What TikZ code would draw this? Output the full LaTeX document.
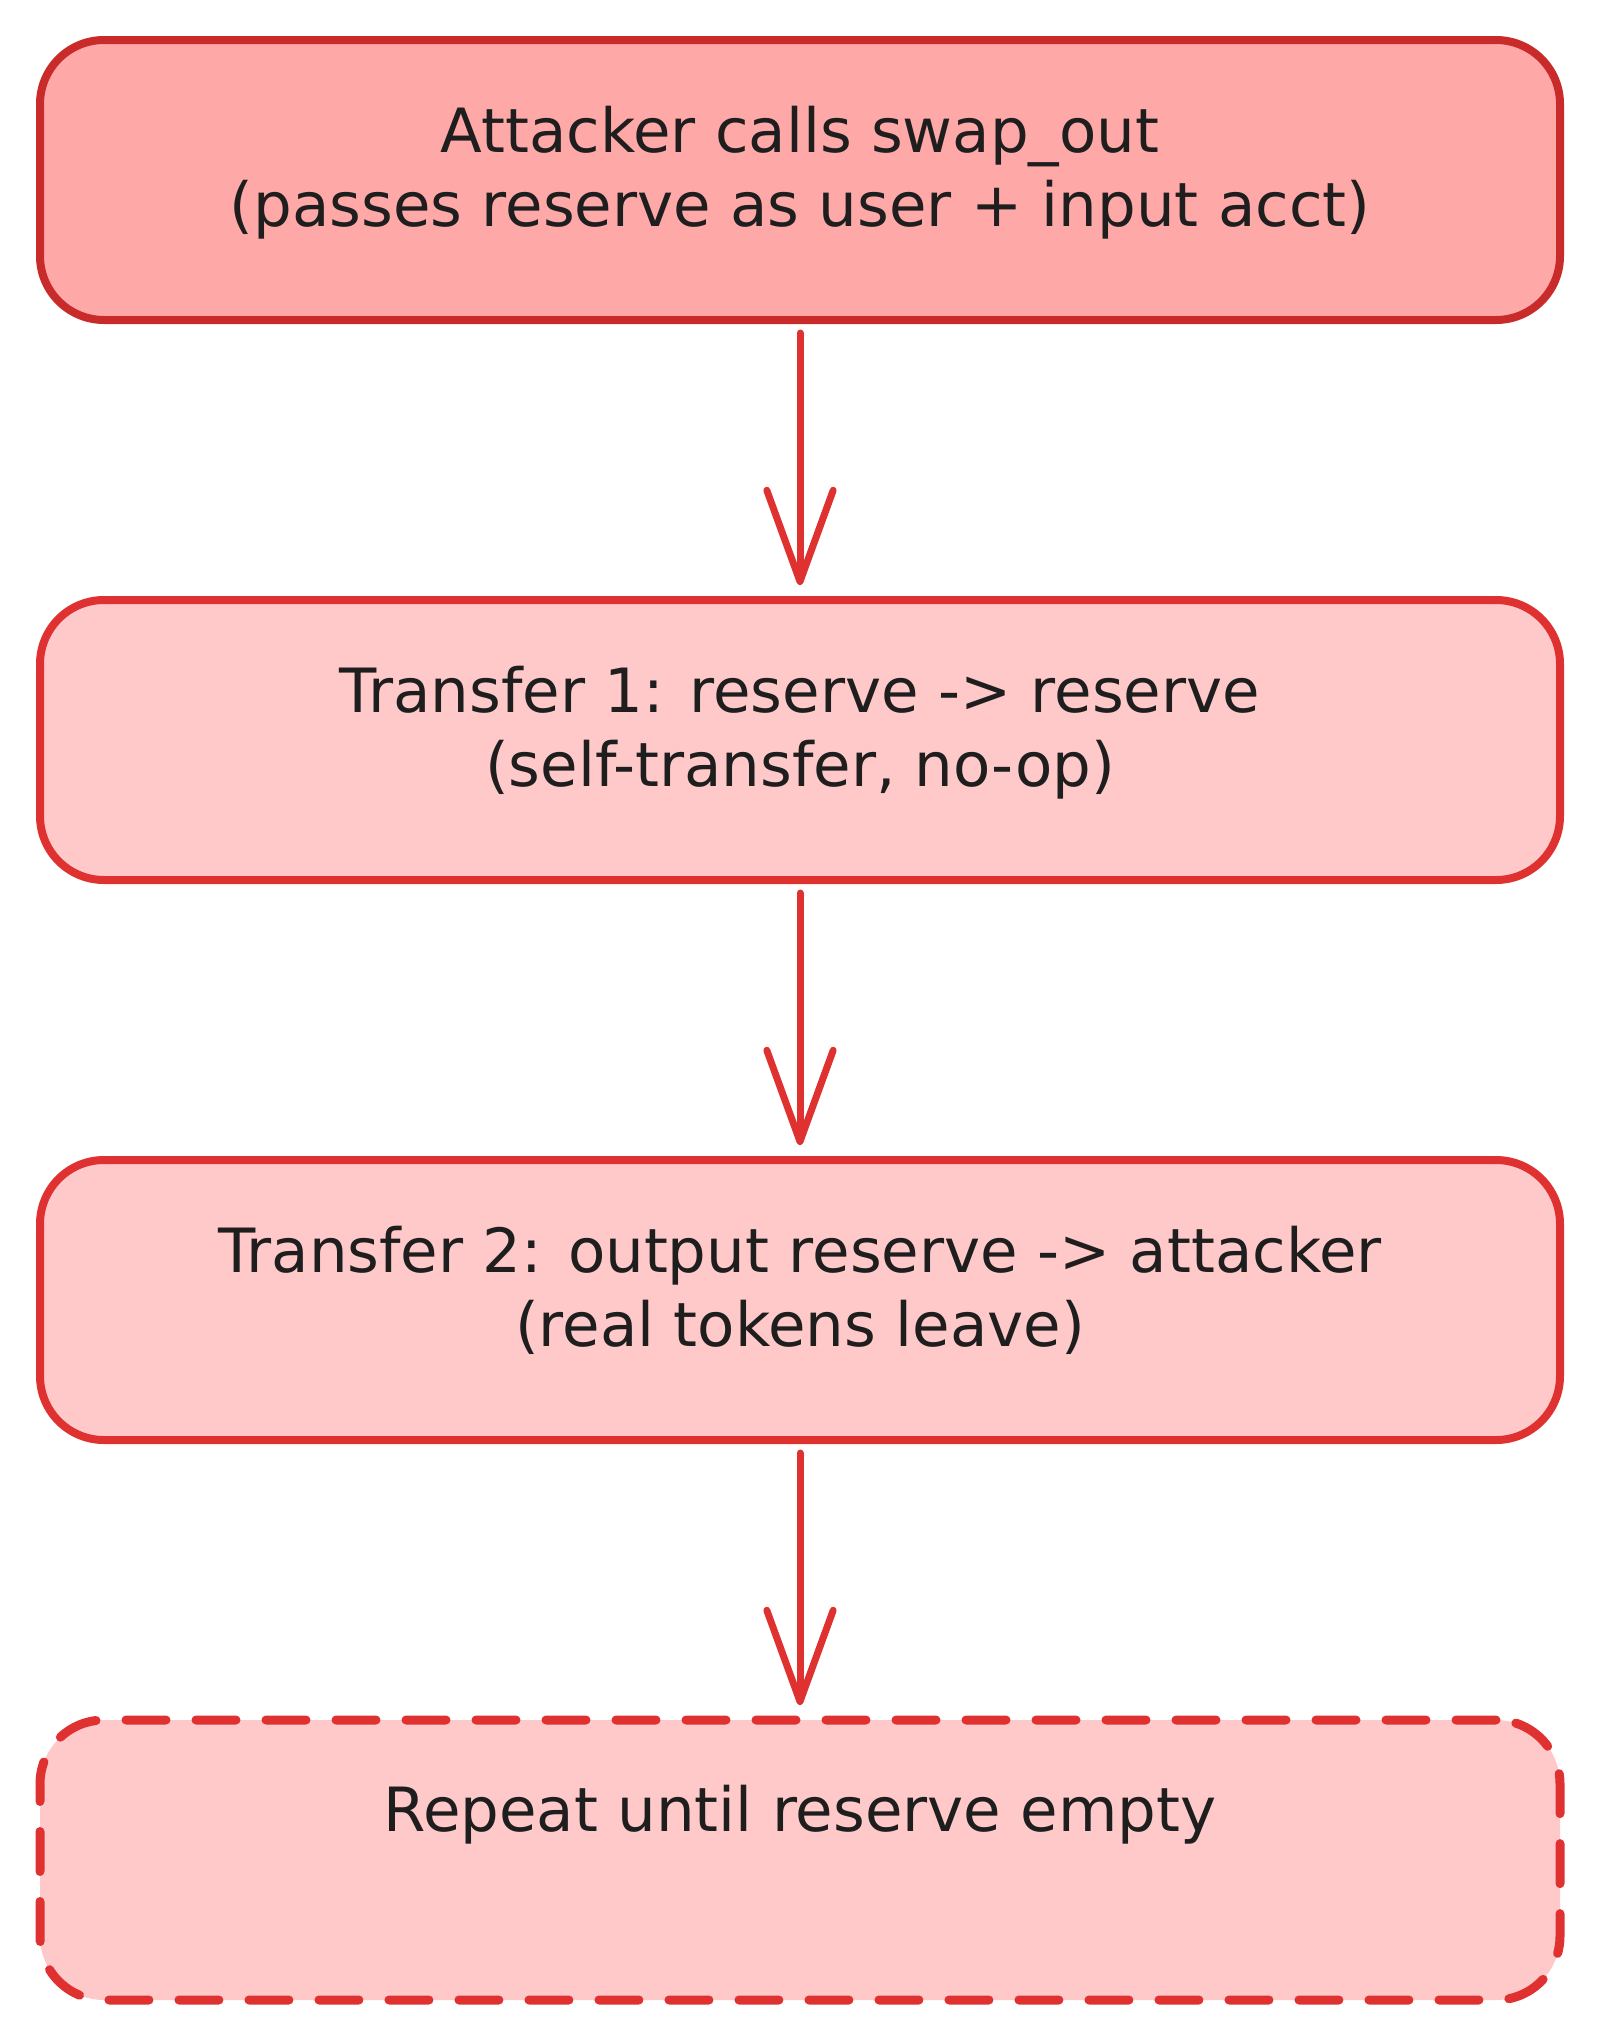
\documentclass[tikz,border=0pt]{standalone}
\usepackage{fontspec}
\setmainfont{DejaVu Sans}
\usetikzlibrary{arrows.meta}
\definecolor{fillA}{HTML}{FFA8A8}
\definecolor{drawA}{HTML}{C92A2A}
\definecolor{fillB}{HTML}{FFC9C9}
\definecolor{drawB}{HTML}{E03131}
\definecolor{ink}{HTML}{1E1E1E}
\tikzset{
  boxbase/.style={rectangle, rounded corners=64pt, minimum width=1520pt, minimum height=280pt, inner sep=0pt, outer sep=0pt},
  boxstrong/.style={boxbase, fill=fillA, draw=drawA, line width=8pt},
  boxsoft/.style={boxbase, fill=fillB, draw=drawB, line width=8pt},
  boxdash/.style={boxbase, fill=fillB, draw=drawB, line width=9pt, line cap=round, dash pattern=on 40pt off 30pt},
  txt/.style={anchor=base, inner sep=0pt, text=ink, font=\fontsize{61}{74}\selectfont},
  arr/.style={draw=drawB, line width=7pt, line cap=round, -{Straight Barb[angle=40:97pt, round]}, shorten <=13pt, shorten >=15pt}
}
\begin{document}
\begin{tikzpicture}[x=1pt, y=-1pt]
\useasboundingbox (0,0) rectangle (1600,2040);
\node[boxstrong] (b1) at (800,180) {};
\node[boxsoft] (b2) at (800,740) {};
\node[boxsoft] (b3) at (800,1300) {};
\node[boxdash] (b4) at (800,1860) {};
\node[txt] (t1a) at (800,152) {Attacker calls swap\_out};
\node[txt] (t1b) at (800,226) {(passes reserve as user + input acct)};
\node[txt] (t2a) at (800,712) {Transfer 1: reserve -> reserve};
\node[txt] (t2b) at (800,786) {(self-transfer, no-op)};
\node[txt] (t3a) at (800,1272) {Transfer 2: output reserve -> attacker};
\node[txt] (t3b) at (800,1346) {(real tokens leave)};
\node[txt] (t4a) at (800,1831) {Repeat until reserve empty};
\draw[arr] (b1.south) -- (b2.north);
\draw[arr] (b2.south) -- (b3.north);
\draw[arr] (b3.south) -- (b4.north);
\end{tikzpicture}
\end{document}
